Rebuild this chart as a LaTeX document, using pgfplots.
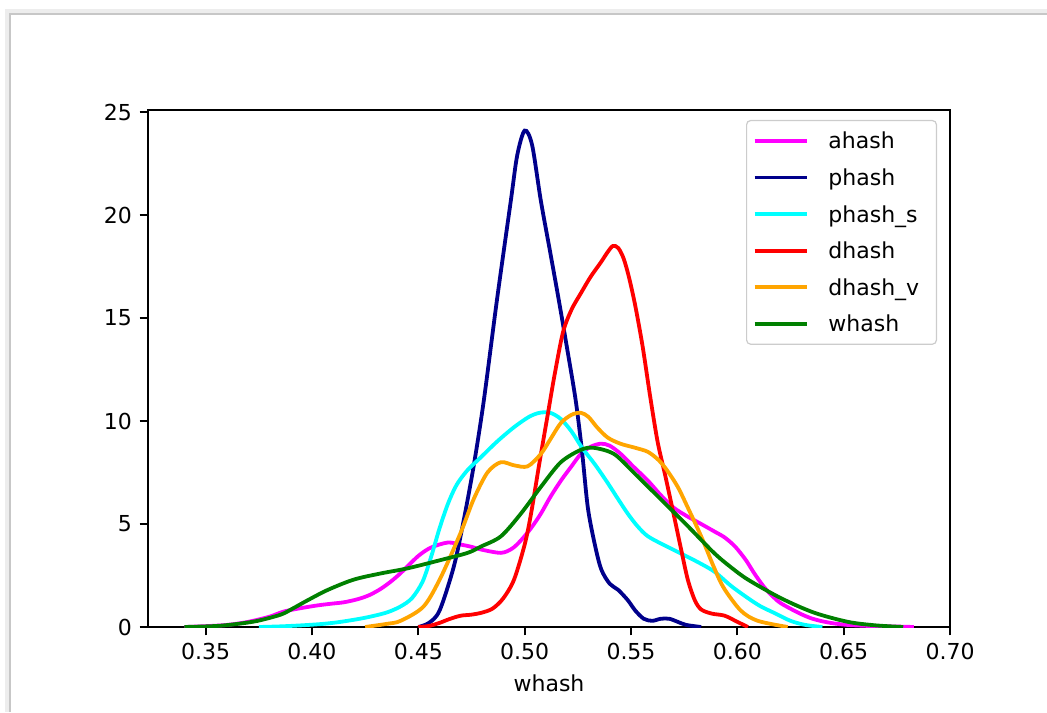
\documentclass[border=0pt]{standalone}
\usepackage{fontspec}
\setmainfont{DejaVu Sans}
\usepackage{pgfplots}
\pgfplotsset{compat=1.18}

\definecolor{cmag}{HTML}{FF00FF}
\definecolor{cnavy}{HTML}{00008B}
\definecolor{ccyan}{HTML}{00FFFF}
\definecolor{cred}{HTML}{FF0000}
\definecolor{corange}{HTML}{FFA500}
\definecolor{cgreen}{HTML}{008000}

\begin{document}
\fontsize{11}{13}\selectfont
\begin{tikzpicture}
\path[use as bounding box] (0,0) rectangle (523.5pt,356pt);
% screenshot frame
\draw[black!7, line width=2.5pt] (3.6pt,0) -- (3.6pt,350.2pt) -- (523.5pt,350.2pt);
\draw[black!22, line width=0.9pt] (5pt,0) -- (5pt,349pt) -- (523.5pt,349pt);
\begin{axis}[
  at={(74pt,42.5pt)}, anchor=south west,
  scale only axis, width=401pt, height=258.5pt,
  xmin=0.3229, xmax=0.70, ymin=0, ymax=25.1,
  xtick={0.35,0.40,0.45,0.50,0.55,0.60,0.65,0.70},
  ytick={0,5,10,15,20,25},
  xtick pos=bottom, ytick pos=left,
  tick align=outside, major tick length=4.2pt,
  every tick/.style={black, line width=0.9pt},
  axis line style={black, line width=0.9pt},
  font=\fontsize{11}{13}\selectfont,
  /pgf/number format/assume math mode=true,
  xticklabel style={/pgf/number format/.cd, fixed, fixed zerofill, precision=2},
  yticklabel style={/pgf/number format/.cd, fixed, precision=0},
  xlabel={whash},
  every axis plot/.append style={line width=1.9pt, smooth, tension=0.5, mark=none},
  legend image code/.code={\draw[#1] (0pt,0pt) -- (26pt,0pt);},
  legend style={at={(0.9838,0.9807)}, anchor=north east,
    draw=black!20, rounded corners=2pt, fill=white, line width=0.6pt,
    inner xsep=3pt, inner ysep=1pt, row sep=0pt,
    cells={anchor=west},
    nodes={inner sep=0pt, text width=51pt, align=left,
      text height=10.5pt, text depth=2.5pt, minimum height=18.3pt},
    /tikz/every odd column/.append style={column sep=10pt}},
]
% ahash
\addplot[cmag] coordinates {
(0.340,0) (0.350,0.04) (0.360,0.1) (0.370,0.25) (0.380,0.5) (0.3867,0.75) (0.395,0.92)
(0.4027,1.05) (0.409,1.13) (0.415,1.2) (0.4215,1.35) (0.427,1.55) (0.4323,1.85) (0.437,2.2)
(0.441,2.55) (0.445,2.95) (0.450,3.45) (0.4558,3.85) (0.4638,4.1) (0.470,4.0) (0.4747,3.9)
(0.480,3.75) (0.4888,3.6) (0.494,3.8) (0.4982,4.2) (0.503,4.8) (0.5076,5.5) (0.512,6.3)
(0.517,7.1) (0.522,7.8) (0.5264,8.4) (0.531,8.75) (0.5358,8.9) (0.540,8.8) (0.5452,8.4)
(0.551,7.8) (0.558,7.1) (0.564,6.4) (0.570,5.8) (0.576,5.4) (0.583,5.0) (0.589,4.65)
(0.594,4.35) (0.599,3.9) (0.604,3.25) (0.608,2.6) (0.6125,1.95) (0.6165,1.5) (0.6205,1.15)
(0.6285,0.7) (0.634,0.45) (0.639,0.3) (0.645,0.18) (0.652,0.1) (0.662,0.05) (0.672,0.03)
(0.683,0)
};
% phash
\addplot[cnavy] coordinates {
(0.450,0) (0.455,0.2) (0.460,0.8) (0.4666,2.9) (0.471,5.0) (0.476,7.8) (0.4808,11)
(0.487,15.9) (0.4935,20.7) (0.4965,22.9) (0.500,24.1) (0.5035,23.4) (0.5076,20.7)
(0.512,18.2) (0.516,15.9) (0.520,13.5) (0.524,11) (0.527,8.5) (0.5297,5.8) (0.533,4.0)
(0.536,2.8) (0.540,2.1) (0.544,1.8) (0.5485,1.3) (0.552,0.8) (0.556,0.4) (0.560,0.3)
(0.564,0.4) (0.568,0.4) (0.572,0.25) (0.576,0.1) (0.583,0)
};
% phash_s
\addplot[ccyan] coordinates {
(0.375,0) (0.385,0.03) (0.395,0.08) (0.405,0.15) (0.4135,0.25) (0.425,0.45) (0.435,0.7)
(0.4417,1.0) (0.447,1.4) (0.452,2.2) (0.456,3.4) (0.460,4.8) (0.464,6.0) (0.468,6.9)
(0.473,7.6) (0.479,8.2) (0.487,9.0) (0.495,9.7) (0.502,10.2) (0.507,10.4) (0.512,10.4)
(0.517,10.1) (0.522,9.5) (0.527,8.7) (0.533,7.9) (0.539,7.0) (0.544,6.2) (0.5485,5.5)
(0.553,4.9) (0.558,4.4) (0.567,3.9) (0.5796,3.25) (0.589,2.7) (0.597,2.0) (0.605,1.4)
(0.611,1.0) (0.617,0.7) (0.625,0.3) (0.632,0.1) (0.640,0)
};
% dhash
\addplot[cred] coordinates {
(0.450,0) (0.455,0.05) (0.460,0.2) (0.465,0.4) (0.470,0.55) (0.475,0.6) (0.480,0.7)
(0.485,0.9) (0.490,1.4) (0.495,2.3) (0.500,4.0) (0.503,5.5) (0.507,8.0) (0.511,10.4)
(0.514,12.2) (0.518,14.3) (0.522,15.4) (0.5264,16.2) (0.531,17.0) (0.5358,17.7)
(0.539,18.2) (0.5415,18.5) (0.544,18.4) (0.5465,17.9) (0.549,17.0) (0.552,15.6)
(0.5555,13.6) (0.559,11.2) (0.5625,9.0) (0.566,7.4) (0.570,5.5) (0.5735,3.8) (0.5767,2.3)
(0.580,1.3) (0.583,0.85) (0.588,0.65) (0.594,0.55) (0.600,0.25) (0.605,0)
};
% dhash_v
\addplot[corange] coordinates {
(0.425,0) (0.435,0.15) (0.4417,0.3) (0.4525,1.0) (0.4605,2.4) (0.470,4.6) (0.476,6.2)
(0.4825,7.5) (0.4888,8.0) (0.495,7.85) (0.5014,7.8) (0.5076,8.4) (0.512,9.1) (0.517,9.9)
(0.522,10.3) (0.5264,10.4) (0.530,10.2) (0.534,9.7) (0.539,9.2) (0.545,8.9) (0.552,8.7)
(0.558,8.5) (0.563,8.1) (0.567,7.6) (0.572,6.8) (0.5767,5.8) (0.583,4.4) (0.589,2.9)
(0.5936,1.9) (0.6016,0.8) (0.6096,0.3) (0.6237,0)
};
% whash
\addplot[cgreen] coordinates {
(0.340,0) (0.355,0.05) (0.365,0.15) (0.3745,0.3) (0.3853,0.6) (0.391,0.9) (0.398,1.3)
(0.4074,1.8) (0.4196,2.3) (0.4323,2.6) (0.445,2.85) (0.4605,3.25) (0.4732,3.6) (0.4793,3.9)
(0.4888,4.4) (0.4982,5.5) (0.5076,6.8) (0.517,8.0) (0.5264,8.6) (0.5325,8.7) (0.542,8.4)
(0.5513,7.5) (0.564,6.2) (0.5767,4.9) (0.589,3.6) (0.597,2.9) (0.605,2.3) (0.6205,1.4)
(0.636,0.7) (0.652,0.25) (0.665,0.08) (0.678,0)
};
\legend{ahash,phash,phash\_s,dhash,dhash\_v,whash}
\end{axis}
\end{tikzpicture}
\end{document}
